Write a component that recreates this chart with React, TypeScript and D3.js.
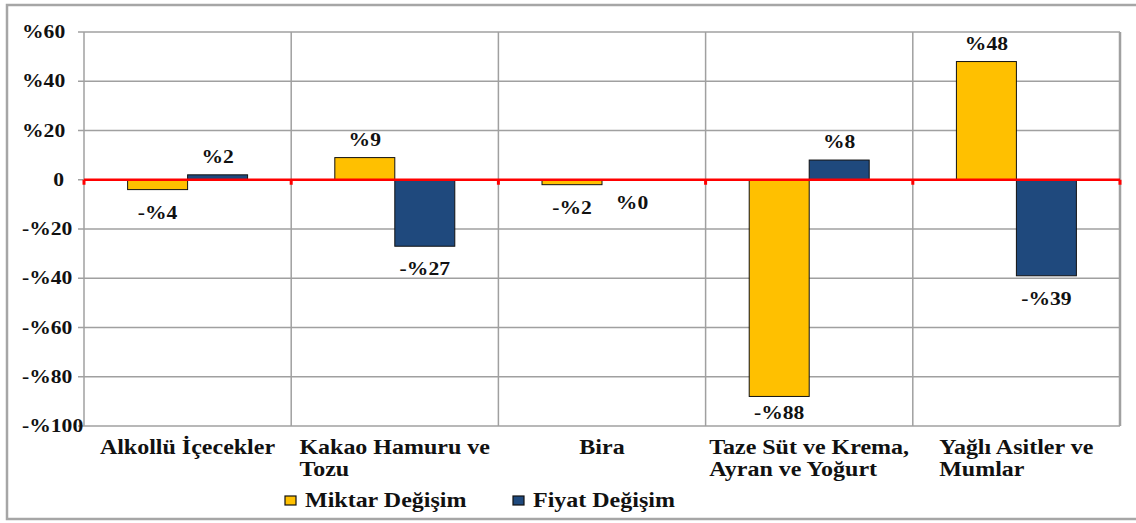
import { useEffect, useRef } from "react";
import * as d3 from "d3";

const categories = [
  "Alkollü İçecekler",
  "Kakao Hamuru ve\nTozu",
  "Bira",
  "Taze Süt ve Krema,\nAyran ve Yoğurt",
  "Yağlı Asitler ve\nMumlar",
];
const seriesNames = ["Miktar Değişim", "Fiyat Değişim"];
const seriesColors = ["#FFC000", "#1F497D"];
const miktar = [-4, 9, -2, -88, 48];
const fiyat = [2, -27, 0, 8, -39];
const yTicks = [60, 40, 20, 0, -20, -40, -60, -80, -100];

const W = 1136;
const H = 523;
const FONT = "'Liberation Serif', 'Times New Roman', serif";
const SX = 1.2; // source picture is stretched sideways

export default function App() {
  const svgRef = useRef<SVGSVGElement | null>(null);

  useEffect(() => {
    if (!svgRef.current) return;
    const svg = d3.select(svgRef.current);
    svg.selectAll("*").remove();

    const left = 84;
    const right = 1120;
    const top = 32;
    const bottom = 426;

    const x0 = d3.scaleBand<string>().domain(categories).range([left, right]).padding(0);
    const bw = x0.bandwidth();
    const x1 = d3
      .scaleBand<string>()
      .domain(seriesNames)
      .range([0, bw])
      .paddingInner(0)
      .paddingOuter(0.727);
    const y = d3.scaleLinear().domain([-100, 60]).range([bottom, top]);

    // outer frame
    svg
      .append("rect")
      .attr("x", 7)
      .attr("y", 5)
      .attr("width", W + 20)
      .attr("height", 514)
      .attr("fill", "white")
      .attr("stroke", "#a6a6a6")
      .attr("stroke-width", 2.5);

    const grid = "#a0a0a0";
    // horizontal gridlines + ticks
    svg
      .append("g")
      .selectAll("line")
      .data(yTicks)
      .join("line")
      .attr("x1", left - 6)
      .attr("x2", right)
      .attr("y1", (d) => y(d))
      .attr("y2", (d) => y(d))
      .attr("stroke", grid)
      .attr("stroke-width", 1.5);

    // vertical category separators
    const bounds = categories.map((c) => x0(c)!).concat([right]);
    svg
      .append("g")
      .selectAll("line")
      .data(bounds)
      .join("line")
      .attr("x1", (d) => d)
      .attr("x2", (d) => d)
      .attr("y1", top)
      .attr("y2", bottom)
      .attr("stroke", grid)
      .attr("stroke-width", (d, i) => (i === bounds.length - 1 ? 2.5 : 1.5));

    // y tick labels
    svg
      .append("g")
      .selectAll("text")
      .data(yTicks)
      .join("text")
      .attr("transform", (d) => `translate(${d === 0 ? 64 : 22},${y(d) + 6}) scale(${SX},1)`)
      .attr("text-anchor", (d) => (d === 0 ? "end" : "start"))
      .attr("font-family", FONT)
      .attr("font-weight", "bold")
      .attr("font-size", 18)
      .attr("fill", "#111")
      .text((d) => (d === 0 ? "0" : d < 0 ? `-%${-d}` : `%${d}`));

    // bars
    const rows = categories.map((c, i) => ({ c, vals: [miktar[i], fiyat[i]] }));
    const items = rows.flatMap((r) =>
      r.vals.map((v, j) => ({ c: r.c, s: seriesNames[j], j, v }))
    );
    const gb = svg.append("g");
    gb.selectAll("rect")
      .data(items)
      .join("rect")
      .attr("x", (d) => x0(d.c)! + x1(d.s)!)
      .attr("width", x1.bandwidth())
      .attr("y", (d) => y(Math.max(0, d.v)))
      .attr("height", (d) => Math.abs(y(d.v) - y(0)))
      .attr("fill", (d) => seriesColors[d.j])
      .attr("stroke", "#111")
      .attr("stroke-width", 1);

    // zero line
    svg
      .append("line")
      .attr("x1", left)
      .attr("x2", right)
      .attr("y1", y(0))
      .attr("y2", y(0))
      .attr("stroke", "#ff0000")
      .attr("stroke-width", 2.5);
    svg
      .append("g")
      .selectAll("rect")
      .data(bounds)
      .join("rect")
      .attr("x", (d) => d - 1.5)
      .attr("y", y(0))
      .attr("width", 3)
      .attr("height", 5)
      .attr("fill", "#ff0000");

    // value labels
    svg
      .append("g")
      .selectAll("text")
      .data(items)
      .join("text")
      .attr("transform", (d) => {
        const cx = x0(d.c)! + x1(d.s)! + x1.bandwidth() / 2;
        const yy =
          d.v > 0 ? y(d.v) - 12 : Math.min(y(d.v) + 29, bottom - 7);
        return `translate(${cx},${yy}) scale(${SX},1)`;
      })
      .attr("text-anchor", "middle")
      .attr("font-family", FONT)
      .attr("font-weight", "bold")
      .attr("font-size", 18)
      .attr("fill", "#111")
      .text((d) => (d.v < 0 ? `-%${-d.v}` : `%${d.v}`));

    // category labels (multi-line, left aligned block centred in band)
    categories.forEach((c) => {
      const lines = c.split("\n");
      const g = svg.append("g");
      const t = g
        .append("text")
        .attr("font-family", FONT)
        .attr("font-weight", "bold")
        .attr("font-size", 20)
        .attr("fill", "#111");
      lines.forEach((ln, k) => {
        t.append("tspan").attr("x", 0).attr("y", k * 22).text(ln);
      });
      const wMax = (t.node() as SVGTextElement).getBBox().width * SX;
      const cx = x0(c)! + bw / 2;
      g.attr("transform", `translate(${cx - wMax / 2},${bottom + 28}) scale(${SX},1)`);
    });

    // legend
    const lg = svg.append("g");
    const legX = [285, 513];
    seriesNames.forEach((s, i) => {
      lg.append("rect")
        .attr("x", legX[i])
        .attr("y", 496)
        .attr("width", 11)
        .attr("height", 9)
        .attr("fill", seriesColors[i])
        .attr("stroke", "#111")
        .attr("stroke-width", 1.2);
      lg.append("text")
        .attr("transform", `translate(${legX[i] + 20},507) scale(${SX},1)`)
        .attr("font-family", FONT)
        .attr("font-weight", "bold")
        .attr("font-size", 20)
        .attr("fill", "#111")
        .text(s);
    });
  }, []);

  return (
    <div style={{ position: "absolute", left: 0, top: 0, width: W, height: H, overflow: "hidden" }}>
      <svg ref={svgRef} width={W} height={H} style={{ display: "block" }} />
    </div>
  );
}
